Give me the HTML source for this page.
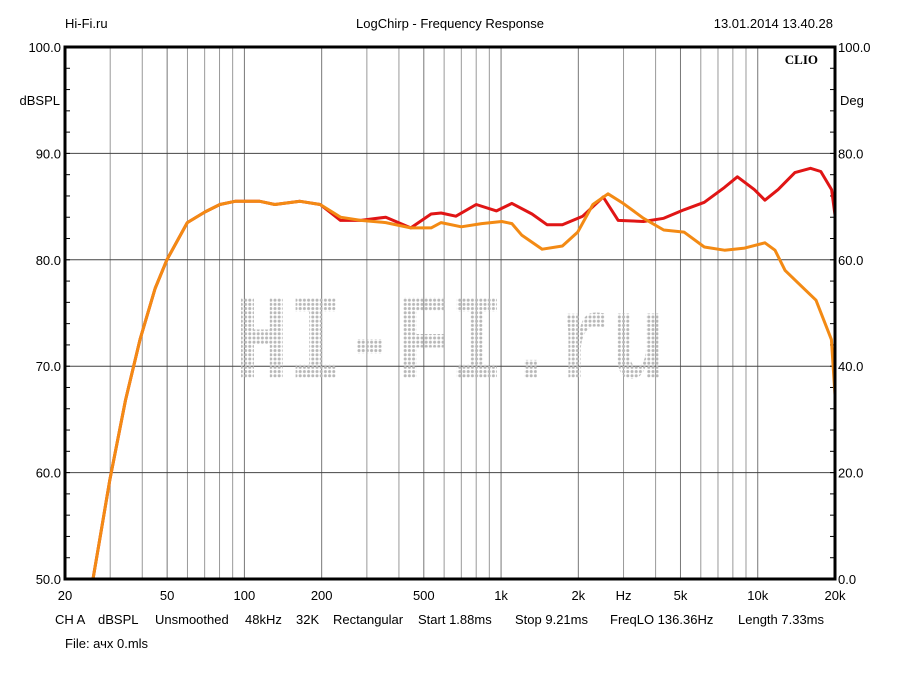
<!DOCTYPE html>
<html><head><meta charset="utf-8"><style>
body{margin:0;background:#fff;width:900px;height:675px;overflow:hidden}
svg{display:block;font-family:"Liberation Sans",Arial,sans-serif}
</style></head><body>
<svg id="chart" width="900" height="675">
<defs>
<pattern id="dots" width="4.2" height="4.2" patternUnits="userSpaceOnUse"><circle cx="2" cy="2" r="1.5" fill="#b8b8b8"/></pattern>
<clipPath id="plotclip"><rect x="65" y="47" width="770" height="532"/></clipPath>
</defs>
<text x="65" y="28" font-size="13">Hi-Fi.ru</text>
<text x="450" y="28" font-size="13" text-anchor="middle">LogChirp - Frequency Response</text>
<text x="833" y="28" font-size="13" text-anchor="end">13.01.2014 13.40.28</text>
<g id="grid"></g>
<text x="450" y="378" font-size="122" font-family="Liberation Mono,monospace" font-weight="bold" textLength="430" lengthAdjust="spacingAndGlyphs" text-anchor="middle" fill="url(#dots)">HI-FI.ru</text>
<g id="series" clip-path="url(#plotclip)"></g>
<rect x="65" y="47" width="770" height="532" fill="none" stroke="#000" stroke-width="3"/>
<text x="818" y="64" font-size="13" font-weight="bold" font-family="Liberation Serif,serif" text-anchor="end">CLIO</text>
<text x="60" y="105" font-size="13" text-anchor="end">dBSPL</text>
<text x="840" y="105" font-size="13">Deg</text>
<g id="labels"></g>
<g font-size="13">
<text x="55" y="624">CH A</text><text x="98" y="624">dBSPL</text><text x="155" y="624">Unsmoothed</text><text x="245" y="624">48kHz</text><text x="296" y="624">32K</text><text x="333" y="624">Rectangular</text><text x="418" y="624">Start 1.88ms</text><text x="515" y="624">Stop 9.21ms</text><text x="610" y="624">FreqLO 136.36Hz</text><text x="738" y="624">Length 7.33ms</text>
</g>
<text x="65" y="648" font-size="13">File: ачх 0.mls</text>
</svg>
<script>
const xTickFreqs=[20,50,100,200,500,1000,2000,3000,5000,10000,20000];
const xTickLabels=["20","50","100","200","500","1k","2k","Hz","5k","10k","20k"];
const yTicks=[50,60,70,80,90,100];
const yTickLabels=["50.0","60.0","70.0","80.0","90.0","100.0"];
const rightTickLabels=["0.0","20.0","40.0","60.0","80.0","100.0"];
const orangeFreq=[25.7,27.3,29.9,34.4,39.2,44.9,49.9,59.9,70.3,80.3,91.9,114.8,131.3,164.6,197.4,236.8,283.8,355.5,445,534,584,700,840,1007,1102,1206,1446,1734,1988,2280,2610,2990,3590,4300,5160,6190,7420,8890,10660,11670,12780,14680,16860,19360,20000];
const orangeDb=[50,53.7,59.3,66.8,72.5,77.3,80.0,83.5,84.5,85.2,85.5,85.5,85.2,85.5,85.2,84.0,83.7,83.5,83.0,83.0,83.5,83.1,83.4,83.6,83.4,82.3,81.0,81.3,82.6,85.2,86.2,85.3,83.9,82.8,82.6,81.2,80.9,81.1,81.6,80.9,79.0,77.6,76.2,72.5,67.3];
const redFreq=[25.7,27.3,29.9,34.4,39.2,44.9,49.9,59.9,70.3,80.3,91.9,114.8,131.3,164.6,197.4,236.8,283.8,355.5,445,534,584,667,800,960,1102,1320,1510,1734,2080,2500,2860,3590,4300,5160,6190,7420,8330,9700,10660,12000,13960,16060,17600,19400,20000];
const redDb=[50,53.7,59.3,66.8,72.5,77.3,80.0,83.5,84.5,85.2,85.5,85.5,85.2,85.5,85.2,83.7,83.7,84.0,83.0,84.3,84.4,84.1,85.2,84.6,85.3,84.3,83.3,83.3,84.1,85.9,83.7,83.6,83.9,84.7,85.4,86.8,87.8,86.6,85.6,86.6,88.2,88.6,88.3,86.6,84.2];

const NS="http://www.w3.org/2000/svg";
const X0=65,X1=835,Y0=47,Y1=579;
function xScale(f){return X0+(X1-X0)*Math.log10(f/20)/3;}
function yScale(d){return Y1-(d-50)/50*(Y1-Y0);}
function mk(tag,attrs,parent){const e=document.createElementNS(NS,tag);for(const k in attrs)e.setAttribute(k,attrs[k]);parent.appendChild(e);return e;}
const grid=document.getElementById('grid');
for(const dec of [10,100,1000,10000]){for(let m=1;m<10;m++){const f=dec*m;if(f<20||f>20000)continue;const x=xScale(f);
const l=mk('line',{x1:x,x2:x,y1:Y0,y2:Y1,stroke:(m===1||m===2||m===5)?'#777':'#999','stroke-width':1},grid);

}}
yTicks.forEach(v=>{const y=yScale(v);const l=mk('line',{x1:X0,x2:X1,y1:y,y2:y,stroke:'#444','stroke-width':1},grid);

});
for(let d=50;d<=100;d+=2){const y=yScale(d);mk('line',{x1:X0,x2:X0+5,y1:y,y2:y,stroke:'#000'},grid);mk('line',{x1:X1-5,x2:X1,y1:y,y2:y,stroke:'#000'},grid);}
const labels=document.getElementById('labels');
yTicks.forEach((v,i)=>{const y=yScale(v)+5;
const t=mk('text',{x:61,y:y,'font-size':13,'text-anchor':'end'},labels);t.textContent=yTickLabels[i];


const r=mk('text',{x:838,y:y,'font-size':13},labels);r.textContent=rightTickLabels[i];

});
xTickFreqs.forEach((f,i)=>{const t=mk('text',{x:xScale(f),y:600,'font-size':13,'text-anchor':'middle'},labels);t.textContent=xTickLabels[i];

});
const series=document.getElementById('series');
function draw(fs,ds,color,name){const pts=fs.map((f,i)=>xScale(f).toFixed(1)+','+yScale(ds[i]).toFixed(1)).join(' ');
const p=mk('polyline',{points:pts,fill:'none',stroke:color,'stroke-width':3,'stroke-linejoin':'round','stroke-linecap':'round'},series);

}
draw(redFreq,redDb,'#e01515','red-response-curve');
draw(orangeFreq,orangeDb,'#f38a14','orange-response-curve');
</script>
</body></html>
